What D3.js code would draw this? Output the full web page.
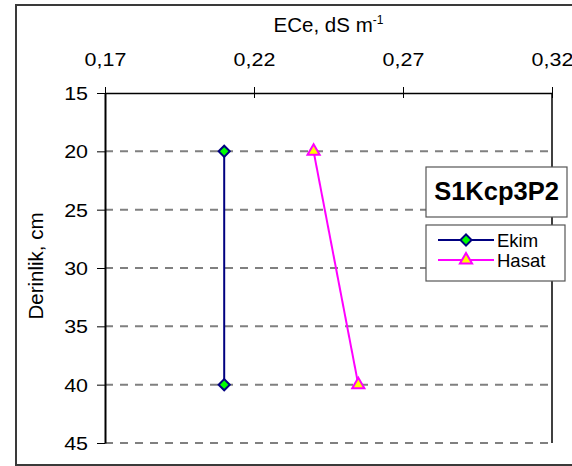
<!DOCTYPE html>
<html>
<head>
<meta charset="utf-8">
<script src="https://cdn.jsdelivr.net/npm/d3@7"></script>
<style>
  html, body { margin: 0; padding: 0; background: #fff; }
  svg { display: block; font-family: "Liberation Sans", Arial, sans-serif; }
</style>
</head>
<body>
<svg id="chart" width="572" height="466"></svg>
<script>
// Depth levels (cm) and ECe readings (dS/m) for each sampling time
const depths = [20, 40];
const ekimValues = [0.21, 0.21];
const hasatValues = [0.24, 0.255];
const seriesNames = ["Ekim", "Hasat"];
const xTicks = [0.17, 0.22, 0.27, 0.32];
const yTicks = [15, 20, 25, 30, 35, 40, 45];
const chartTitle = "S1Kcp3P2";

const svg = d3.select("#chart");
const plot = { left: 105, right: 552, top: 93, bottom: 443 };
const FONT = "'Liberation Sans', Arial, sans-serif";
const stretch = 1.13; // tick labels are drawn slightly wide

const x = d3.scaleLinear().domain([0.17, 0.32]).range([plot.left, plot.right]);
const y = d3.scaleLinear().domain([15, 45]).range([plot.top, plot.bottom]);
const fmt = v => d3.format(".2f")(v).replace(".", ",");

// outer chart frame (its right edge runs past the visible area)
svg.append("rect")
  .attr("x", 16).attr("y", 5).attr("width", 600).attr("height", 460)
  .attr("fill", "#fff").attr("stroke", "#3a3a3a").attr("stroke-width", 2);

// dashed horizontal gridlines
svg.append("g").selectAll("line")
  .data(yTicks.filter(d => d > 15))
  .join("line")
  .attr("x1", plot.left).attr("x2", plot.right)
  .attr("y1", d => y(d)).attr("y2", d => y(d))
  .attr("stroke", "#808080").attr("stroke-width", 2)
  .attr("stroke-dasharray", "8,7");

// right border of the plot area
svg.append("line")
  .attr("x1", plot.right).attr("x2", plot.right)
  .attr("y1", plot.top).attr("y2", plot.bottom)
  .attr("stroke", "#000").attr("stroke-width", 1.5);

// top x axis
const xAxis = svg.append("g")
  .attr("transform", `translate(0,${plot.top})`)
  .call(d3.axisTop(x).tickValues(xTicks).tickFormat(fmt).tickSizeInner(6).tickSizeOuter(0));
xAxis.select(".domain").attr("stroke", "#000").attr("stroke-width", 1.5);
xAxis.selectAll(".tick line").attr("y2", 5).attr("y1", -6).attr("stroke", "#000");
xAxis.selectAll(".tick text")
  .attr("y", -27).attr("dy", 0)
  .attr("transform", `scale(${stretch},1)`)
  .attr("font-size", 19).attr("fill", "#000").attr("font-family", FONT);

// left y axis
const yAxis = svg.append("g")
  .attr("transform", `translate(${plot.left},0)`)
  .call(d3.axisLeft(y).tickValues(yTicks).tickSizeInner(8).tickSizeOuter(0));
yAxis.select(".domain").attr("stroke", "#000").attr("stroke-width", 2);
yAxis.selectAll(".tick line").attr("stroke", "#000");
yAxis.selectAll(".tick text")
  .attr("x", -17 / stretch).attr("dy", "0.35em")
  .attr("transform", `scale(${stretch},1)`)
  .attr("font-size", 19).attr("fill", "#000").attr("font-family", FONT);

// axis titles
const xt = svg.append("text")
  .attr("x", (plot.left + plot.right) / 2).attr("y", 32)
  .attr("text-anchor", "middle").attr("font-size", 20.5).attr("fill", "#000");
xt.append("tspan").text("ECe, dS m");
xt.append("tspan").attr("dy", -8).attr("font-size", 12).text("-1");

svg.append("text")
  .attr("transform", `translate(43,${(plot.top + plot.bottom) / 2 - 2}) rotate(-90)`)
  .attr("text-anchor", "middle").attr("font-size", 20.5).attr("fill", "#000")
  .text("Derinlik, cm");

// series
const diamond = d3.symbol().type(d3.symbolSquare).size(62)();
const triangle = d3.symbol().type(d3.symbolTriangle).size(64)();
const series = [
  { name: seriesNames[0], values: ekimValues, stroke: "#000080", fill: "#00ff00", shape: diamond, rot: 45 },
  { name: seriesNames[1], values: hasatValues, stroke: "#ff00ff", fill: "#ffff00", shape: triangle, rot: 0 }
];

const line = d3.line().x(d => x(d.v)).y(d => y(d.d));

series.forEach(s => {
  const pts = depths.map((d, i) => ({ d, v: s.values[i] }));
  svg.append("path")
    .datum(pts)
    .attr("d", line)
    .attr("fill", "none").attr("stroke", s.stroke).attr("stroke-width", 2);
  svg.append("g").selectAll("path")
    .data(pts)
    .join("path")
    .attr("transform", d => `translate(${x(d.v)},${y(d.d)}) rotate(${s.rot})`)
    .attr("d", s.shape)
    .attr("fill", s.fill).attr("stroke", s.stroke).attr("stroke-width", 2);
});

// chart title box
svg.append("rect")
  .attr("x", 426).attr("y", 167).attr("width", 141).attr("height", 50)
  .attr("fill", "#fff").attr("stroke", "#555").attr("stroke-width", 1.2);
svg.append("text")
  .attr("x", 496.5).attr("y", 200)
  .attr("text-anchor", "middle").attr("font-size", 25.5).attr("font-weight", "bold")
  .attr("fill", "#000").text(chartTitle);

// legend
svg.append("rect")
  .attr("x", 426).attr("y", 225).attr("width", 139).attr("height", 56)
  .attr("fill", "#fff").attr("stroke", "#555").attr("stroke-width", 1.2);
const leg = svg.append("g").selectAll("g")
  .data(series)
  .join("g")
  .attr("transform", (d, i) => `translate(0,${240 + i * 20})`);
leg.append("line")
  .attr("x1", 438).attr("x2", 494)
  .attr("stroke", d => d.stroke).attr("stroke-width", 2);
leg.append("path")
  .attr("transform", d => `translate(466,0) rotate(${d.rot})`)
  .attr("d", d => d.shape)
  .attr("fill", d => d.fill).attr("stroke", d => d.stroke).attr("stroke-width", 2);
leg.append("text")
  .attr("x", 497).attr("y", 6.5)
  .attr("font-size", 18.5).attr("fill", "#000")
  .text(d => d.name);
</script>
</body>
</html>
